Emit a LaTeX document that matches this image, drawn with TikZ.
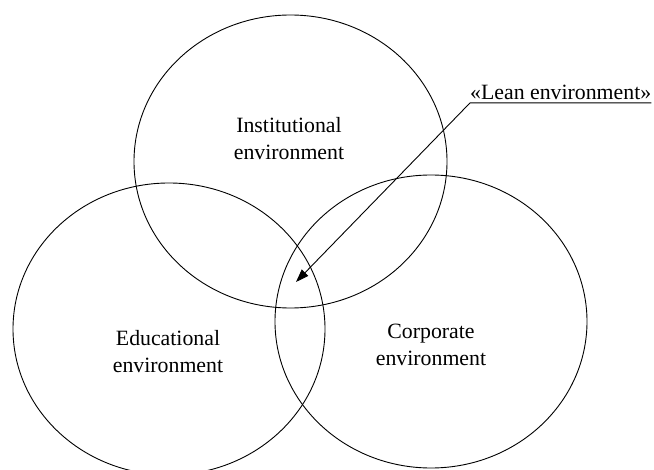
\documentclass[tikz,border=0pt]{standalone}
\usepackage{fontspec}
\setmainfont{Liberation Serif}
\usetikzlibrary{shapes.geometric,arrows.meta}
\begin{document}
\begin{tikzpicture}[x=1pt,y=-1pt,
  circ/.style={ellipse, draw, line width=0.9pt, inner sep=0pt},
  lbl/.style={align=center, inner sep=0pt, font=\fontsize{21.8}{27}\selectfont},
  conn/.style={line width=0.9pt, -{Triangle[length=13pt,width=9pt]}}]
  \useasboundingbox[fill=white] (0,0) rectangle (654,470);
  % the three overlapping environments
  \node[circ, minimum width=313pt, minimum height=293pt] (inst) at (290.5,161.5) {};
  \node[circ, minimum width=312pt, minimum height=292pt] (educ) at (169,329) {};
  \node[circ, minimum width=312pt, minimum height=293pt] (corp) at (431,321.5) {};
  % captions
  \node[lbl] (instT) at (289,138.5) {Institutional\\environment};
  \node[lbl] (educT) at (168,351.5) {Educational\\environment};
  \node[lbl] (corpT) at (431,345) {Corporate\\environment};
  % callout for the shared zone
  \node[lbl, anchor=base west, inner ysep=2.5pt] (lean) at (470,100) {«Lean environment»};
  \coordinate (core) at (296,282);
  \draw[conn] (lean.south east) -- (lean.south west) -- (core);
\end{tikzpicture}
\end{document}
